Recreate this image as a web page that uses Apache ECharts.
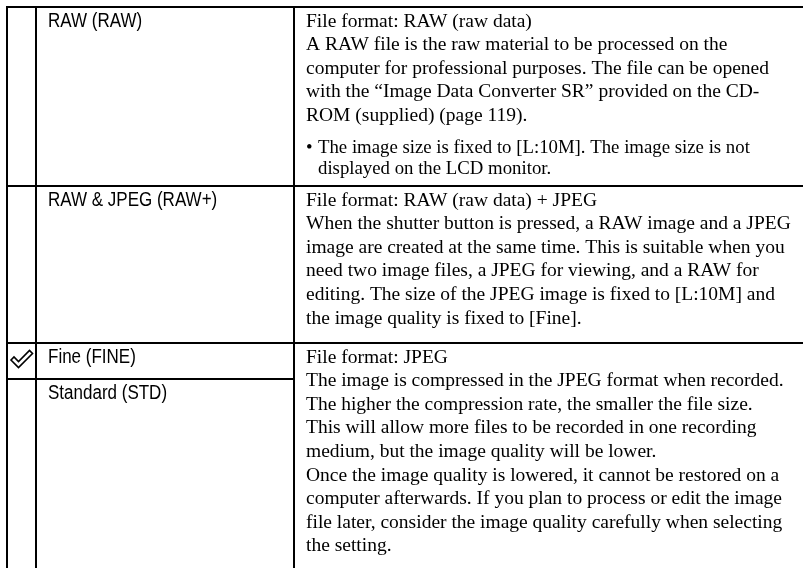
<!DOCTYPE html>
<html>
<head>
<meta charset="utf-8">
<script src="https://cdn.jsdelivr.net/npm/echarts@6/dist/echarts.min.js"></script>
<style>html,body{margin:0;padding:0;background:#fff}#c{width:803px;height:568px}</style>
</head>
<body>
<div id="c"></div>
<script>
// ---- Data ----
const settingLabels = [
  ["RAW (RAW)"],
  ["RAW & JPEG (RAW+)"],
  ["Fine (FINE)", "Standard (STD)"]
];
const selectedLabel = "Fine (FINE)";
const descriptionLines = [
  [
    "File format: RAW (raw data)",
    "A RAW file is the raw material to be processed on the",
    "computer for professional purposes. The file can be opened",
    "with the \u201cImage Data Converter SR\u201d provided on the CD-",
    "ROM (supplied) (page 119)."
  ],
  [
    "File format: RAW (raw data) + JPEG",
    "When the shutter button is pressed, a RAW image and a JPEG",
    "image are created at the same time. This is suitable when you",
    "need two image files, a JPEG for viewing, and a RAW for",
    "editing. The size of the JPEG image is fixed to [L:10M] and",
    "the image quality is fixed to [Fine]."
  ],
  [
    "File format: JPEG",
    "The image is compressed in the JPEG format when recorded.",
    "The higher the compression rate, the smaller the file size.",
    "This will allow more files to be recorded in one recording",
    "medium, but the image quality will be lower.",
    "Once the image quality is lowered, it cannot be restored on a",
    "computer afterwards. If you plan to process or edit the image",
    "file later, consider the image quality carefully when selecting",
    "the setting."
  ]
];
const noteLines = [
  ["The image size is fixed to [L:10M]. The image size is not", "displayed on the LCD monitor."],
  [],
  []
];

// ---- Layout ----
const W = 803, H = 568;
const xLeft = 7, xCol2 = 36, xCol3 = 294;
const rowTops = [7, 186, 343];
const rowBottom = 568;
const subRowHeight = 36;
const lineH = 23.6;
const noteLineH = 20.5;
const lineW = 2;
const serif = "'Liberation Serif','Times New Roman',serif";
const sans = "'Liberation Sans',Arial,sans-serif";

const g = [];
function hline(x1, x2, y) {
  g.push({type: 'line', shape: {x1, y1: y, x2, y2: y}, style: {stroke: '#000', lineWidth: lineW}});
}
function vline(x, y1, y2) {
  g.push({type: 'line', shape: {x1: x, y1, x2: x, y2}, style: {stroke: '#000', lineWidth: lineW}});
}
function txt(x, y, text, font, size, scaleX) {
  g.push({type: 'text', x, y, scaleX: scaleX || 1, originX: 0,
    style: {text, fontFamily: font, fontSize: size, fill: '#000', verticalAlign: 'middle', align: 'left'}});
}

// grid lines
rowTops.forEach(y => hline(xLeft - 1, W, y));
vline(xLeft, rowTops[0] - 1, rowBottom);
vline(xCol2, rowTops[0] - 1, rowBottom);
vline(xCol3, rowTops[0] - 1, rowBottom);

settingLabels.forEach((labels, r) => {
  const top = rowTops[r];
  labels.forEach((lab, k) => {
    const subTop = top + k * subRowHeight;
    if (k > 0) hline(xLeft - 1, xCol3, subTop);
    txt(48, subTop + 14.5, lab, sans, 20, 0.85);
    if (lab === selectedLabel) {
      const cx = 10.5, cy = subTop;
      g.push({type: 'polygon', shape: {points: [
        [cx + 0.5, cy + 17], [cx + 3.5, cy + 14], [cx + 8, cy + 18.5], [cx + 19, cy + 7.5], [cx + 22, cy + 10.5], [cx + 8, cy + 24.5]
      ]}, style: {fill: '#fff', stroke: '#000', lineWidth: 1.6, lineJoin: 'miter'}});
    }
  });
  const lines = descriptionLines[r];
  lines.forEach((ln, i) => {
    txt(306, top + 14.5 + i * lineH, ln, serif, 19.5);
  });
  const notes = noteLines[r];
  const noteStart = top + 14.5 + (lines.length - 1) * lineH + 32.5;
  notes.forEach((ln, i) => {
    const y = noteStart + i * noteLineH;
    if (i === 0) txt(306, y, "\u2022", serif, 18.8);
    txt(318, y, ln, serif, 18.8);
  });
});

const chart = echarts.init(document.getElementById('c'), null, {renderer: 'canvas', width: W, height: H});
chart.setOption({backgroundColor: '#fff', animation: false, graphic: {elements: g}});
</script>
</body>
</html>
